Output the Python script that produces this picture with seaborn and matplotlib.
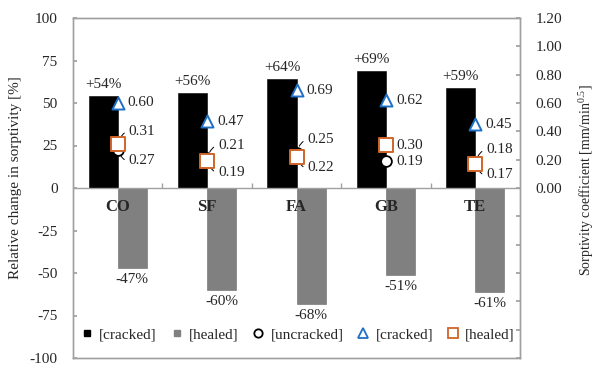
import numpy as np
import pandas as pd
import matplotlib
matplotlib.use("Agg")
import matplotlib.pyplot as plt
from matplotlib.lines import Line2D
import seaborn as sns

# Data
mixes = ["CO", "SF", "FA", "GB", "TE"]
change_cracked = [54, 56, 64, 69, 59]        # relative change [%]
change_healed = [-47, -60, -68, -51, -61]    # relative change [%]
s_uncracked = [0.27, 0.21, 0.25, 0.19, 0.18]  # sorptivity [mm/min^0.5]
s_cracked = [0.60, 0.47, 0.69, 0.62, 0.45]
s_healed = [0.31, 0.19, 0.22, 0.30, 0.17]

sns.set_theme(style="white")
plt.rcParams["font.family"] = ["Liberation Serif", "DejaVu Serif"]
plt.rcParams["mathtext.fontset"] = "custom"
plt.rcParams["mathtext.rm"] = "Liberation Serif"
plt.rcParams["mathtext.it"] = "Liberation Serif:italic"
plt.rcParams["axes.unicode_minus"] = False

SPINE = "#a0a0a0"
BLUE = "#1f6fc5"
ORANGE = "#d0652a"
FS = 11

df = pd.DataFrame({
    "mix": mixes * 2,
    "state": ["cracked"] * 5 + ["healed"] * 5,
    "change": change_cracked + change_healed,
})

fig = plt.figure(figsize=(5.95, 3.65), dpi=100)
ax = fig.add_axes([73 / 595, 1 - 358 / 365, 447 / 595, 340 / 365])

sns.barplot(data=df, x="mix", y="change", hue="state", order=mixes,
            hue_order=["cracked", "healed"], palette=["#000000", "#808080"],
            width=0.65, gap=0, dodge=True, ax=ax, legend=False,
            edgecolor="#6a6a6a", linewidth=0.4, errorbar=None)
for bar in ax.patches[:5]:
    bar.set_edgecolor("#000000")

ax.set_xlim(-0.5, 4.5)
ax.set_ylim(-100, 100)
ax.set_yticks(np.arange(-100, 101, 25))
ax.set_xticks([])
ax.set_xlabel("")
ax.set_ylabel("Relative change in sorptivity [%]", fontsize=FS)
ax.yaxis.set_label_coords(-0.115, 0.53)
ax.tick_params(axis="y", direction="in", length=3, color=SPINE, labelsize=FS, pad=11, left=True)
for sp in ax.spines.values():
    sp.set_color(SPINE)
    sp.set_linewidth(1.0)

# zero line with small category separators
ax.axhline(0, color=SPINE, lw=1.0, zorder=1)
ax.vlines(np.arange(0.5, 4.5, 1.0), 0, 3, color=SPINE, lw=1.0)

# category names just below the zero line
for i, m in enumerate(mixes):
    ax.text(i, -11, m, ha="center", va="center", fontsize=12, fontweight="bold", zorder=5)

# percent labels for the bars
for i, v in enumerate(change_cracked):
    ax.text(i - 0.1625, v + 3, f"+{v}%", ha="center", va="bottom", fontsize=FS)
for i, v in enumerate(change_healed):
    ax.text(i + 0.1625, v - 3, f"{v}%", ha="center", va="top", fontsize=FS)

# secondary axis: sorptivity coefficients
ax2 = ax.twinx()
ax2.set_ylim(-1.2, 1.2)
ticks = np.round(np.arange(-1.2, 1.21, 0.2), 2)
ax2.set_yticks(ticks)
ax2.set_yticklabels([f"{abs(t):.2f}" if t > -0.01 else "" for t in ticks])
ax2.tick_params(axis="y", direction="in", length=3, color=SPINE, labelsize=FS, pad=11, right=True)
for sp in ax2.spines.values():
    sp.set_color(SPINE)
    sp.set_linewidth(1.0)
ax2.grid(False)
fig.text(587 / 595, 1 - 180 / 365, r"Sorptivity coefficient [mm/min$^{0.5}$]",
         rotation=90, ha="center", va="center", fontsize=10)

xpos = np.arange(len(mixes))
sns.scatterplot(x=xpos, y=s_uncracked, marker="o", s=60, facecolor="white",
                edgecolor="black", linewidth=1.3, ax=ax2, zorder=3)
sns.scatterplot(x=xpos, y=s_cracked, marker="^", s=75, facecolor="white",
                edgecolor=BLUE, linewidth=1.4, ax=ax2, zorder=4)
sns.scatterplot(x=xpos, y=s_healed, marker="s", s=90, facecolor="white",
                edgecolor=ORANGE, linewidth=1.4, ax=ax2, zorder=5)
ax2.set_xlim(-0.5, 4.5)

# value labels next to markers
for i, v in enumerate(s_cracked):
    ax2.annotate(f"{v:.2f}", (i, v), xytext=(10, 0), textcoords="offset pixels",
                 ha="left", va="center", fontsize=FS)

for i in range(len(mixes)):
    u, h = s_uncracked[i], s_healed[i]
    if mixes[i] == "GB":
        ax2.annotate(f"{h:.2f}", (i, h), xytext=(10, 0), textcoords="offset pixels",
                     ha="left", va="center", fontsize=FS)
        ax2.annotate(f"{u:.2f}", (i, u), xytext=(10, 0), textcoords="offset pixels",
                     ha="left", va="center", fontsize=FS)
        continue
    hi, lo = (h, u) if h >= u else (u, h)
    ax2.annotate(f"{hi:.2f}", (i, hi), xytext=(11, 13), textcoords="offset pixels",
                 ha="left", va="center", fontsize=FS,
                 arrowprops=dict(arrowstyle="-", lw=0.7, color="black",
                                 connectionstyle="arc3,rad=0.5", shrinkA=1, shrinkB=5))
    ax2.annotate(f"{lo:.2f}", (i, lo), xytext=(11, -11), textcoords="offset pixels",
                 ha="left", va="center", fontsize=FS,
                 arrowprops=dict(arrowstyle="-", lw=0.7, color="black",
                                 connectionstyle="arc3,rad=-0.5", shrinkA=1, shrinkB=5))

handles = [
    Line2D([], [], marker="s", ls="", color="black", markersize=5),
    Line2D([], [], marker="s", ls="", color="#808080", markersize=5),
    Line2D([], [], marker="o", ls="", markerfacecolor="white", markeredgecolor="black",
           markeredgewidth=1.3, markersize=6),
    Line2D([], [], marker="^", ls="", markerfacecolor="white", markeredgecolor=BLUE,
           markeredgewidth=1.3, markersize=6.5),
    Line2D([], [], marker="s", ls="", markerfacecolor="white", markeredgecolor=ORANGE,
           markeredgewidth=1.3, markersize=6.5),
]
labels = ["[cracked]", "[healed]", "[uncracked]", "[cracked]", "[healed]"]
ax2.legend(handles, labels, loc="center", bbox_to_anchor=(0.503, 0.07), ncol=5,
           frameon=False, fontsize=FS, handlelength=0.8, handletextpad=0.4,
           columnspacing=0.9, borderaxespad=0)

fig.savefig("out.png", dpi=100)
